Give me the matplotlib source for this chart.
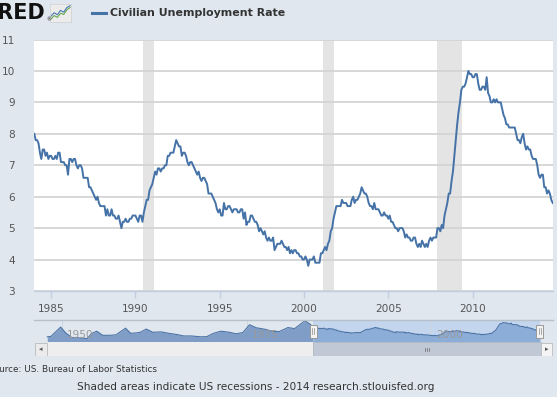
import numpy as np
import matplotlib
matplotlib.use("Agg")
import matplotlib.pyplot as plt
from matplotlib.patches import Rectangle

# monthly civilian unemployment rate, Jan 1984 - Oct 2014
rate = [
    8.0, 7.8, 7.8, 7.7, 7.4, 7.2, 7.5, 7.5, 7.3, 7.4, 7.2, 7.3,  # 1984
    7.3, 7.2, 7.2, 7.3, 7.2, 7.4, 7.4, 7.1, 7.1, 7.1, 7.0, 7.0,  # 1985
    6.7, 7.2, 7.2, 7.1, 7.2, 7.2, 7.0, 6.9, 7.0, 7.0, 6.9, 6.6,  # 1986
    6.6, 6.6, 6.6, 6.3, 6.3, 6.2, 6.1, 6.0, 5.9, 6.0, 5.8, 5.7,  # 1987
    5.7, 5.7, 5.7, 5.4, 5.6, 5.4, 5.4, 5.6, 5.4, 5.4, 5.3, 5.3,  # 1988
    5.4, 5.2, 5.0, 5.2, 5.2, 5.3, 5.2, 5.2, 5.3, 5.3, 5.4, 5.4,  # 1989
    5.4, 5.3, 5.2, 5.4, 5.4, 5.2, 5.5, 5.7, 5.9, 5.9, 6.2, 6.3,  # 1990
    6.4, 6.6, 6.8, 6.7, 6.9, 6.9, 6.8, 6.9, 6.9, 7.0, 7.0, 7.3,  # 1991
    7.3, 7.4, 7.4, 7.4, 7.6, 7.8, 7.7, 7.6, 7.6, 7.3, 7.4, 7.4,  # 1992
    7.3, 7.1, 7.0, 7.1, 7.1, 7.0, 6.9, 6.8, 6.7, 6.8, 6.6, 6.5,  # 1993
    6.6, 6.6, 6.5, 6.4, 6.1, 6.1, 6.1, 6.0, 5.9, 5.8, 5.6, 5.5,  # 1994
    5.6, 5.4, 5.4, 5.8, 5.6, 5.6, 5.7, 5.7, 5.6, 5.5, 5.6, 5.6,  # 1995
    5.6, 5.5, 5.5, 5.6, 5.6, 5.3, 5.5, 5.1, 5.2, 5.2, 5.4, 5.4,  # 1996
    5.3, 5.2, 5.2, 5.1, 4.9, 5.0, 4.9, 4.8, 4.9, 4.7, 4.6, 4.7,  # 1997
    4.6, 4.6, 4.7, 4.3, 4.4, 4.5, 4.5, 4.5, 4.6, 4.5, 4.4, 4.4,  # 1998
    4.3, 4.4, 4.2, 4.3, 4.2, 4.3, 4.3, 4.2, 4.2, 4.1, 4.1, 4.0,  # 1999
    4.0, 4.1, 4.0, 3.8, 4.0, 4.0, 4.0, 4.1, 3.9, 3.9, 3.9, 3.9,  # 2000
    4.2, 4.2, 4.3, 4.4, 4.3, 4.5, 4.6, 4.9, 5.0, 5.3, 5.5, 5.7,  # 2001
    5.7, 5.7, 5.7, 5.9, 5.8, 5.8, 5.8, 5.7, 5.7, 5.7, 5.9, 6.0,  # 2002
    5.8, 5.9, 5.9, 6.0, 6.1, 6.3, 6.2, 6.1, 6.1, 6.0, 5.8, 5.7,  # 2003
    5.7, 5.6, 5.8, 5.6, 5.6, 5.6, 5.5, 5.4, 5.4, 5.5, 5.4, 5.4,  # 2004
    5.3, 5.4, 5.2, 5.2, 5.1, 5.0, 5.0, 4.9, 5.0, 5.0, 5.0, 4.9,  # 2005
    4.7, 4.8, 4.7, 4.7, 4.6, 4.6, 4.7, 4.7, 4.5, 4.4, 4.5, 4.4,  # 2006
    4.6, 4.5, 4.4, 4.5, 4.4, 4.6, 4.7, 4.6, 4.7, 4.7, 4.7, 5.0,  # 2007
    5.0, 4.9, 5.1, 5.0, 5.4, 5.6, 5.8, 6.1, 6.1, 6.5, 6.8, 7.3,  # 2008
    7.8, 8.3, 8.7, 9.0, 9.4, 9.5, 9.5, 9.6, 9.8, 10.0, 9.9, 9.9,  # 2009
    9.8, 9.8, 9.9, 9.9, 9.6, 9.4, 9.4, 9.5, 9.5, 9.4, 9.8, 9.3,  # 2010
    9.2, 9.0, 9.0, 9.1, 9.0, 9.1, 9.0, 9.0, 9.0, 8.8, 8.6, 8.5,  # 2011
    8.3, 8.3, 8.2, 8.2, 8.2, 8.2, 8.2, 8.0, 7.8, 7.8, 7.7, 7.9,  # 2012
    8.0, 7.7, 7.5, 7.6, 7.5, 7.5, 7.3, 7.2, 7.2, 7.2, 7.0, 6.7,  # 2013
    6.6, 6.7, 6.7, 6.3, 6.3, 6.1, 6.2, 6.1, 5.9, 5.8,            # 2014
]
start_year = 1984

# recessions (decimal years, start/end)
recessions = [(1990.45, 1991.08), (2001.14, 2001.79), (2007.90, 2009.39)]

# earlier history for the navigator (turning points, 1948-1983)
hist_year = [1948.0, 1948.5, 1949.8, 1950.5, 1951.3, 1952.0, 1953.4, 1954.0,
             1954.7, 1955.5, 1956.5, 1957.3, 1958.6, 1959.3, 1960.0, 1960.6,
             1961.4, 1962.3, 1963.4, 1964.5, 1965.5, 1966.5, 1967.5, 1968.8,
             1969.6, 1970.5, 1971.5, 1972.5, 1973.6, 1974.5, 1975.4, 1976.3,
             1977.5, 1978.5, 1979.4, 1980.6, 1981.5, 1982.9, 1983.5]
hist_rate = [3.4, 3.6, 7.9, 5.2, 3.1, 3.0, 2.6, 4.9, 6.0, 4.1, 4.1, 4.3,
             7.4, 5.0, 5.2, 5.5, 7.0, 5.5, 5.7, 5.0, 4.5, 3.8, 3.8, 3.4,
             3.5, 5.0, 6.0, 5.6, 4.8, 5.4, 9.0, 7.6, 6.9, 6.0, 5.8, 7.7,
             7.2, 10.8, 9.5]

years = start_year + np.arange(len(rate)) / 12.0
end_year = years[-1]
nav_x = np.concatenate([hist_year, years])
nav_y = np.concatenate([hist_rate, rate])

W, H = 557, 397
bg = '#e0e7ef'
blue = '#4572a7'

fig = plt.figure(figsize=(W / 100, H / 100), dpi=100, facecolor=bg)


def box(x0, y0, x1, y1):
    # pixel box -> figure fraction rect
    return [x0 / W, 1 - y1 / H, (x1 - x0) / W, (y1 - y0) / H]


# ---- main chart ----
ax = fig.add_axes(box(34.3, 39.5, 552.7, 291))
ax.set_facecolor('white')
for a, b in recessions:
    ax.axvspan(a, b, color='#e4e4e4', lw=0, zorder=1)
ax.plot(years, rate, color=blue, lw=1.4, zorder=3)
ax.set_xlim(years[0], end_year)
ax.set_ylim(3, 11)
ax.set_yticks(range(3, 12))
ax.set_xticks(range(1985, 2011, 5))
ax.grid(axis='y', color='#d4d4d4', lw=1.3, zorder=2)
for s in ['top', 'left', 'right']:
    ax.spines[s].set_visible(False)
ax.spines['bottom'].set_color('#c0d0e0')
ax.spines['bottom'].set_linewidth(1.0)
ax.tick_params(axis='y', length=0, pad=14, labelsize=7.6, labelcolor='#555555')
ax.tick_params(axis='x', length=5, width=1, color='#c0d0e0', pad=4,
               labelsize=7.6, labelcolor='#555555')

# ---- navigator ----
nav_lo, nav_hi = 1.0, 11.2
px_per_yr = (540 - 47.3) / (end_year - 1948.0)
nav = fig.add_axes(box(34, 320, 552.7, 342))
nav.set_facecolor(bg)
nav.set_xlim(1948.0 - (47.3 - 34) / px_per_yr, end_year + (552.7 - 540) / px_per_yr)
nav.set_ylim(nav_lo, nav_hi)
nav.axvspan(years[0], end_year, color='#c3d6ed', lw=0, zorder=0)
left = nav_x <= years[0]
nav.fill_between(nav_x[left], nav_lo, nav_y[left], color='#7f9dc6', lw=0, zorder=1)
nav.fill_between(nav_x[~left], nav_lo, nav_y[~left], color='#8cadd8', lw=0, zorder=1)
nav.plot(nav_x, nav_y, color='#4d74a6', lw=0.8, zorder=2)
for yr in [1950, 1975, 2000]:
    nav.axvline(yr, color='#cdd6e0', lw=0.8, zorder=0.5)
    nav.text(yr + 5 / px_per_yr, 0.32, str(yr), fontsize=7.6, color='#999999',
             va='center', ha='left', zorder=3, transform=nav.get_xaxis_transform())
nav.set_xticks([])
nav.set_yticks([])
for s in ['left', 'right', 'bottom']:
    nav.spines[s].set_visible(False)
nav.spines['top'].set_color('#b8c0cb')
nav.spines['top'].set_linewidth(1.0)
tr = nav.get_xaxis_transform()
for hx in [years[0], end_year]:
    nav.add_patch(Rectangle((hx - 3.5 / px_per_yr, 0.2), 7 / px_per_yr, 0.58,
                            transform=tr, fc='#f2f2f2', ec='#999999', lw=0.7, zorder=4))
    nav.plot([hx - 0.8 / px_per_yr] * 2, [0.35, 0.63], transform=tr, color='#888888', lw=0.5, zorder=5)
    nav.plot([hx + 0.8 / px_per_yr] * 2, [0.35, 0.63], transform=tr, color='#888888', lw=0.5, zorder=5)

# ---- scrollbar and decorations in pixel coords ----
deco = fig.add_axes([0, 0, 1, 1], zorder=-1)
deco.set_xlim(0, W)
deco.set_ylim(H, 0)
deco.axis('off')

sb = fig.add_axes(box(34, 342, 552.7, 356))
sb.set_xlim(34, 552.7)
sb.set_ylim(356, 342)
sb.axis('off')
sb.add_patch(Rectangle((46.7, 342), 313.3 - 46.7, 14, fc='#eeeeee', ec='none'))
sb.add_patch(Rectangle((313.3, 342), 540.7 - 313.3, 14, fc='#bfc8d4', ec='#b0b8c4', lw=0.6))
for dx in [-1.6, 0, 1.6]:
    sb.plot([(313.3 + 540.7) / 2 + dx] * 2, [347.5, 351], color='#666666', lw=0.5)
sb.add_patch(Rectangle((34.5, 342.5), 12, 13, fc='#ebebeb', ec='#bbbbbb', lw=0.6))
sb.add_patch(Rectangle((540.7, 342.5), 11.5, 13, fc='#f4f4f4', ec='#bbbbbb', lw=0.6))
sb.text(40.6, 349.3, '◂', fontsize=5, color='#555555', ha='center', va='center')
sb.text(546.5, 349.3, '▸', fontsize=5, color='#555555', ha='center', va='center')

# header: logo and legend
fig.text(45 / W, 1 - 13 / H, 'FRED', fontsize=15, fontweight='bold', color='#111111',
         ha='right', va='center')
fig.text(46 / W, 1 - 20 / H, '®', fontsize=3.5, color='#111111', ha='left', va='center')
icon = fig.add_axes(box(50, 4, 71, 22))
icon.set_facecolor('#ececec')
for s in icon.spines.values():
    s.set_color('#d0d0d0')
    s.set_linewidth(0.5)
icon.set_xticks([])
icon.set_yticks([])
icon_x = [0, 1, 2, 3, 4, 5, 6]
icon_green = [1.0, 2.2, 1.6, 3.0, 2.6, 4.2, 5.0]
icon_blue = [2.0, 3.2, 2.5, 4.0, 3.4, 5.0, 5.6]
icon.plot(icon_x, icon_green, color='#69a84f', lw=0.8)
icon.plot(icon_x, icon_blue, color='#4a78b5', lw=0.8)
icon.set_xlim(-0.3, 6.3)
icon.set_ylim(0, 6.2)

deco.plot([92, 106], [13, 13], color=blue, lw=2.2)
fig.text(110 / W, 1 - 13 / H, 'Civilian Unemployment Rate', fontsize=7.9,
         fontweight='bold', color='#333333', ha='left', va='center')

# footer
fig.text(-12 / W, 1 - 370 / H, 'Source: US. Bureau of Labor Statistics', fontsize=6.4,
         color='#333333', ha='left', va='center')
fig.text(77 / W, 1 - 387 / H,
         'Shaded areas indicate US recessions - 2014 research.stlouisfed.org',
         fontsize=7.6, color='#333333', ha='left', va='center')

fig.savefig('out.png', dpi=100, facecolor=bg)
